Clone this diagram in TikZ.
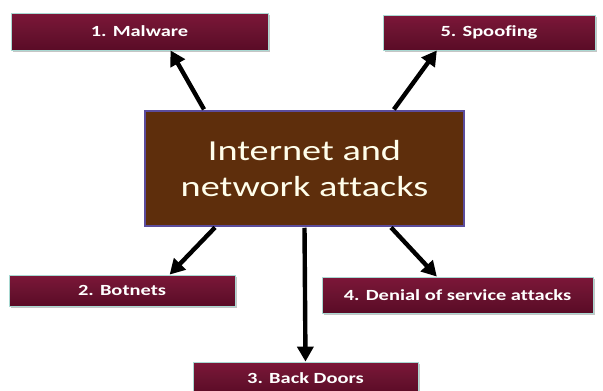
\documentclass[tikz,border=0pt]{standalone}
\usepackage{fontspec}
\setmainfont{Carlito}
\newfontfamily\widefont[FakeStretch=1.32, Ligatures=NoCommon]{Carlito}
\usetikzlibrary{calc,arrows.meta,shadows}
\definecolor{hubbrown}{HTML}{5E2E0C}
\definecolor{hubedge}{HTML}{5B4C9C}
\definecolor{tagtop}{HTML}{7C1638}
\definecolor{tagbot}{HTML}{5A0B26}
\definecolor{tagedge}{HTML}{A9D9D2}
\tikzset{
  x=1pt, y=-1pt,
  hub/.style={draw=hubedge, line width=1.5pt, fill=hubbrown, text=white!92!yellow,
    align=center, font=\widefont\fontsize{29}{36}\selectfont, inner sep=0pt},
  tag/.style={draw=tagedge, line width=0.8pt, top color=tagtop, bottom color=tagbot,
    middle color=tagtop!85!black, text=white, font=\widefont\bfseries\fontsize{15.5}{18}\selectfont,
    inner sep=0pt, drop shadow={shadow xshift=2pt, shadow yshift=-2pt, opacity=0.45}},
  link/.style={line width=4.4pt, -{Triangle[length=15pt,width=16pt]}, shorten <=1pt}
}
\begin{document}
\begin{tikzpicture}
  \useasboundingbox[fill=white] (0,0) rectangle (603,391);
  % central topic
  \node[hub, minimum width=319pt, minimum height=115pt] (hub) at (304.5,168.5)
    {Internet and\\network attacks};
  % attack categories
  \node[tag, minimum width=257pt, minimum height=37pt] (malware) at (139.5,31.5) {1. Malware};
  \node[tag, minimum width=212pt, minimum height=35pt] (spoof) at (489,32.5) {5. Spoofing};
  \node[tag, minimum width=226pt, minimum height=31pt] (botnets) at (122,290.5) {2. Botnets};
  \node[tag, minimum width=271pt, minimum height=36pt] (dos) at (457.5,295) {4. Denial of service attacks};
  \node[tag, minimum width=225pt, minimum height=32pt] (backdoor) at (305.5,378) {3. Back Doors};
  % connectors from the hub
  \draw[link] ($(hub.north west)!0.188!(hub.north east)$) -- ($(malware.south west)!0.62!(malware.south east)$);
  \draw[link] ($(hub.north west)!0.777!(hub.north east)$) -- ($(spoof.south west)!0.255!(spoof.south east)$);
  \draw[link] ($(hub.south west)!0.223!(hub.south east)$) -- ($(botnets.north west)!0.71!(botnets.north east)$);
  \draw[link] ($(hub.south west)!0.768!(hub.south east)$) -- ($(dos.north west)!0.424!(dos.north east)$);
  \draw[link] (hub.south) -- (backdoor.north);
\end{tikzpicture}
\end{document}
